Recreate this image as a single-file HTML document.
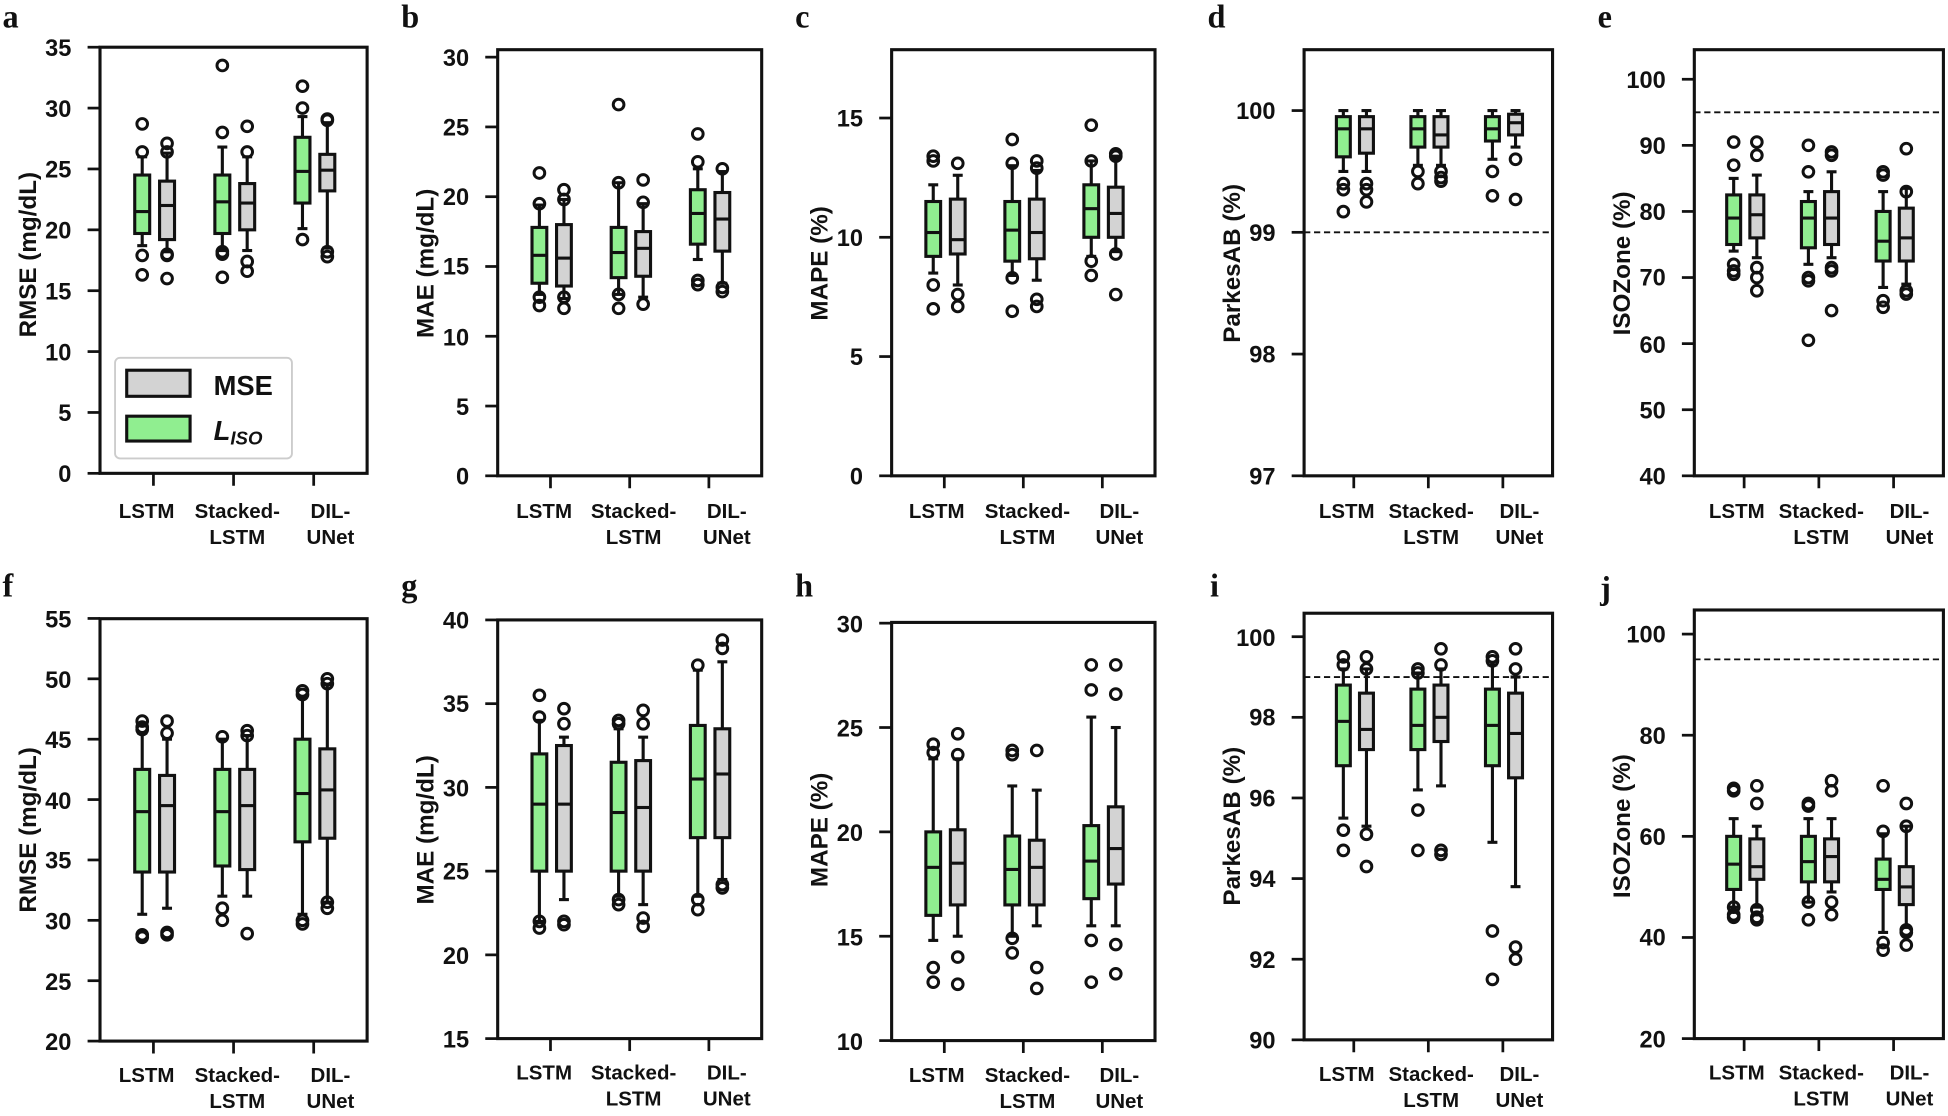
<!DOCTYPE html>
<html><head><meta charset="utf-8"><style>
html,body{margin:0;padding:0;background:#fff;}
svg{display:block;}
text{font-family:"Liberation Sans",Arial,sans-serif;font-weight:bold;fill:#111;}
.t{font-size:19px;}
.xl{font-size:16.5px;text-anchor:middle;}
.yl{font-size:19.5px;text-anchor:middle;}
.let{font-family:"Liberation Serif",serif;font-size:26px;font-weight:bold;}
</style></head><body>
<svg id="s" width="1948" height="1116" viewBox="0 0 1568 898.3" preserveAspectRatio="none" xmlns="http://www.w3.org/2000/svg">
<g id="g"></g>
<text class="let" x="2" y="22">a</text><text class="let" x="323" y="22">b</text><text class="let" x="640" y="22">c</text><text class="let" x="972" y="22">d</text><text class="let" x="1286" y="22">e</text>
<text class="let" x="2" y="480">f</text><text class="let" x="323" y="480">g</text><text class="let" x="640" y="480">h</text><text class="let" x="974" y="480">i</text><text class="let" x="1288" y="482">j</text>
<text class="yl" transform="translate(29,205) rotate(-90)">RMSE (mg/dL)</text>
<text class="yl" transform="translate(349,212) rotate(-90)">MAE (mg/dL)</text>
<text class="yl" transform="translate(666,212) rotate(-90)">MAPE (%)</text>
<text class="yl" transform="translate(998,212) rotate(-90)">ParkesAB (%)</text>
<text class="yl" transform="translate(1312,212) rotate(-90)">ISOZone (%)</text>
<text class="yl" transform="translate(29,668) rotate(-90)">RMSE (mg/dL)</text>
<text class="yl" transform="translate(349,668) rotate(-90)">MAE (mg/dL)</text>
<text class="yl" transform="translate(666,668) rotate(-90)">MAPE (%)</text>
<text class="yl" transform="translate(998,665) rotate(-90)">ParkesAB (%)</text>
<text class="yl" transform="translate(1312,665) rotate(-90)">ISOZone (%)</text>
<g>
<text class="xl" x="118" y="417">LSTM</text><text class="xl" x="191" y="417">Stacked-</text><text class="xl" x="191" y="438">LSTM</text><text class="xl" x="266" y="417">DIL-</text><text class="xl" x="266" y="438">UNet</text>
<text class="xl" x="438" y="417">LSTM</text><text class="xl" x="510" y="417">Stacked-</text><text class="xl" x="510" y="438">LSTM</text><text class="xl" x="585" y="417">DIL-</text><text class="xl" x="585" y="438">UNet</text>
<text class="xl" x="754" y="417">LSTM</text><text class="xl" x="827" y="417">Stacked-</text><text class="xl" x="827" y="438">LSTM</text><text class="xl" x="901" y="417">DIL-</text><text class="xl" x="901" y="438">UNet</text>
<text class="xl" x="1084" y="417">LSTM</text><text class="xl" x="1152" y="417">Stacked-</text><text class="xl" x="1152" y="438">LSTM</text><text class="xl" x="1223" y="417">DIL-</text><text class="xl" x="1223" y="438">UNet</text>
<text class="xl" x="1398" y="417">LSTM</text><text class="xl" x="1466" y="417">Stacked-</text><text class="xl" x="1466" y="438">LSTM</text><text class="xl" x="1537" y="417">DIL-</text><text class="xl" x="1537" y="438">UNet</text>
<text class="xl" x="118" y="871">LSTM</text><text class="xl" x="191" y="871">Stacked-</text><text class="xl" x="191" y="892">LSTM</text><text class="xl" x="266" y="871">DIL-</text><text class="xl" x="266" y="892">UNet</text>
<text class="xl" x="438" y="869">LSTM</text><text class="xl" x="510" y="869">Stacked-</text><text class="xl" x="510" y="890">LSTM</text><text class="xl" x="585" y="869">DIL-</text><text class="xl" x="585" y="890">UNet</text>
<text class="xl" x="754" y="871">LSTM</text><text class="xl" x="827" y="871">Stacked-</text><text class="xl" x="827" y="892">LSTM</text><text class="xl" x="901" y="871">DIL-</text><text class="xl" x="901" y="892">UNet</text>
<text class="xl" x="1084" y="870">LSTM</text><text class="xl" x="1152" y="870">Stacked-</text><text class="xl" x="1152" y="891">LSTM</text><text class="xl" x="1223" y="870">DIL-</text><text class="xl" x="1223" y="891">UNet</text>
<text class="xl" x="1398" y="869">LSTM</text><text class="xl" x="1466" y="869">Stacked-</text><text class="xl" x="1466" y="890">LSTM</text><text class="xl" x="1537" y="869">DIL-</text><text class="xl" x="1537" y="890">UNet</text>
</g>
<g class="t" text-anchor="end">
<text x="57.5" y="45">35</text><text x="57.5" y="94">30</text><text x="57.5" y="143">25</text><text x="57.5" y="192">20</text><text x="57.5" y="241">15</text><text x="57.5" y="290">10</text><text x="57.5" y="339">5</text><text x="57.5" y="388">0</text>
<text x="377.6" y="53">30</text><text x="377.6" y="109">25</text><text x="377.6" y="165">20</text><text x="377.6" y="221">15</text><text x="377.6" y="278">10</text><text x="377.6" y="334">5</text><text x="377.6" y="390">0</text>
<text x="694.7" y="102">15</text><text x="694.7" y="198">10</text><text x="694.7" y="294">5</text><text x="694.7" y="390">0</text>
<text x="1026.7" y="96">100</text><text x="1026.7" y="194">99</text><text x="1026.7" y="292">98</text><text x="1026.7" y="390">97</text>
<text x="1340.8" y="71">100</text><text x="1340.8" y="124">90</text><text x="1340.8" y="177">80</text><text x="1340.8" y="230">70</text><text x="1340.8" y="284">60</text><text x="1340.8" y="337">50</text><text x="1340.8" y="390">40</text>
<text x="57.5" y="505">55</text><text x="57.5" y="554">50</text><text x="57.5" y="602">45</text><text x="57.5" y="651">40</text><text x="57.5" y="699">35</text><text x="57.5" y="748">30</text><text x="57.5" y="797">25</text><text x="57.5" y="845">20</text>
<text x="377.6" y="506">40</text><text x="377.6" y="573">35</text><text x="377.6" y="641">30</text><text x="377.6" y="708">25</text><text x="377.6" y="776">20</text><text x="377.6" y="843">15</text>
<text x="694.7" y="509">30</text><text x="694.7" y="593">25</text><text x="694.7" y="677">20</text><text x="694.7" y="761">15</text><text x="694.7" y="845">10</text>
<text x="1026.7" y="520">100</text><text x="1026.7" y="584">98</text><text x="1026.7" y="649">96</text><text x="1026.7" y="714">94</text><text x="1026.7" y="779">92</text><text x="1026.7" y="844">90</text>
<text x="1340.8" y="517">100</text><text x="1340.8" y="599">80</text><text x="1340.8" y="680">60</text><text x="1340.8" y="761">40</text><text x="1340.8" y="843">20</text>
</g>
<rect x="92.6" y="288" width="142.4" height="81" rx="4" fill="#fff" stroke="#ccc" stroke-width="1.5"/>
<rect x="102" y="298" width="51" height="21" fill="#d3d3d3" stroke="#111" stroke-width="2.5"/>
<rect x="102" y="335" width="51" height="20" fill="#90ee90" stroke="#111" stroke-width="2.5"/>
<text x="172" y="318" style="font-size:22px">MSE</text>
<text x="172" y="354" style="font-size:22px;font-style:italic">L<tspan style="font-size:15px" dy="4">ISO</tspan></text>
</svg>
<script>
var P=[
{l:80.5,w:215,t:38,b:381,ymin:0,ppu:9.8,ticks:[0,5,10,15,20,25,30,35],d:[
[18.7,19.7,21.5,24.5,26,[26.4,28.7,17.9,16.3]],[18.2,19.2,22,24,26.3,[27.1,26.4,18,17.9,16]],
[18.3,19.7,22.3,24.5,26.8,[33.5,28,18.2,18,16.1]],[18.3,20,22.2,23.8,26,[28.5,26.4,17.4,16.6]],
[20.1,22.2,24.8,27.6,29.3,[31.8,30,19.2]],[18.5,23.2,24.9,26.2,28.8,[29.1,29,18.2,17.8]]]},
{l:400.6,w:212.5,t:40,b:383,ymin:0,ppu:(383-46)/30,ticks:[0,5,10,15,20,25,30],d:[
[13,13.8,15.8,17.8,19.4,[21.7,19.5,12.8,12.2]],[12.7,13.6,15.6,18,19.8,[20.5,19.8,12.8,12]],
[13,14.2,16,17.8,21,[26.6,21,13,12]],[12.8,14.3,16.3,17.5,19.5,[21.2,19.6,12.3]],
[15.5,16.6,18.8,20.5,22,[24.5,22.5,14,13.7]],[13.8,16.1,18.4,20.3,21.8,[22,13.5,13.2]]]},
{l:717.7,w:212,t:40,b:383,ymin:0,ppu:19.2,ticks:[0,5,10,15],d:[
[8.5,9.2,10.2,11.5,12.2,[13.4,13.2,8,7]],[8,9.3,9.9,11.6,12.6,[13.1,7.6,7.1]],
[8.4,9,10.3,11.5,13,[14.1,13.1,8.3,6.9]],[8.2,9.1,10.2,11.6,12.8,[13.2,12.9,7.4,7.1]],
[9.2,10,11.2,12.2,13.2,[14.7,13.2,9,8.4]],[9.4,10,11,12.1,13.4,[13.5,13.4,9.3,7.6]]]},
{l:1049.7,w:200,t:40,b:383,ymin:97,ppu:98,ticks:[97,98,99,100],dash:99,d:[
[99.5,99.62,99.85,99.95,100,[99.4,99.35,99.17]],[99.5,99.65,99.85,99.95,100,[99.4,99.35,99.25]],
[99.55,99.7,99.85,99.95,100,[99.5,99.4]],[99.55,99.7,99.8,99.95,100,[99.5,99.45,99.42]],
[99.6,99.75,99.85,99.95,100,[99.5,99.3]],[99.7,99.8,99.9,99.97,100,[99.6,99.27]]]},
{l:1363.8,w:200.5,t:40,b:383,ymin:40,ppu:5.32,ticks:[40,50,60,70,80,90,100],dash:95,d:[
[74,75,79,82.5,85,[90.5,87,72,71,70.5]],[73,76,79.5,82.5,85.5,[90.5,88.5,71.5,70,68]],
[72,74.5,79,81.5,83,[90,86,70,69.5,60.5]],[73,75,79,83,86,[89,88.5,71.5,71,65]],
[68.5,72.5,75.5,80,83,[86,85.5,66.5,65.5]],[69,72.5,76,80.5,83.5,[89.5,83,68,67.5]]]},
{l:80.5,w:215,t:498,b:838,ymin:20,ppu:9.72,ticks:[20,25,30,35,40,45,50,55],d:[
[30.5,34,39,42.5,45.5,[46.5,46,45.8,28.8,28.6]],[31,34,39.5,42,45,[46.5,45.5,29,28.8]],
[32,34.5,39,42.5,45,[45.2,31,30]],[32,34.2,39.5,42.5,45.3,[45.7,45.3,28.9]],
[30.5,36.5,40.5,45,48.5,[49,48.7,30,29.7]],[31.5,36.8,40.8,44.2,49.5,[50,49.6,31.5,31]]]},
{l:400.6,w:212.5,t:499,b:836,ymin:15,ppu:13.48,ticks:[15,20,25,30,35,40],d:[
[22,25,29,32,34,[35.5,34.2,22,21.6]],[23.3,25,29,32.5,33,[34.7,33.8,22,21.8]],
[23.5,25,28.5,31.5,33.5,[34,33.8,23.3,23]],[23,25,28.8,31.6,33,[34.6,33.8,22.2,21.7]],
[23.5,27,30.5,33.7,37,[37.3,23.3,22.7]],[24.5,27,30.8,33.5,37.5,[38.8,38.3,24.2,24]]]},
{l:717.7,w:212,t:501,b:837.6,ymin:10,ppu:16.8,ticks:[10,15,20,25,30],d:[
[14.8,16,18.3,20,23.5,[24.2,23.8,13.5,12.8]],[15,16.5,18.5,20.1,23.5,[24.7,23.7,14,12.7]],
[15,16.5,18.2,19.8,22.2,[23.9,23.7,14.9,14.2]],[15.5,16.5,18.3,19.6,22,[23.9,13.5,12.5]],
[15.5,16.8,18.6,20.3,25.5,[28,26.8,14.8,12.8]],[15.5,17.5,19.2,21.2,25,[28,26.6,14.6,13.2]]]},
{l:1049.7,w:200,t:493.6,b:837,ymin:90,ppu:32.45,ticks:[90,92,94,96,98,100],dash:99,d:[
[95.5,96.8,97.9,98.8,99.2,[99.5,99.3,95.2,94.7]],[95.3,97.2,97.7,98.6,99.2,[99.5,99.2,95.1,94.3]],
[96.2,97.2,97.8,98.7,99.1,[99.2,99.1,95.7,94.7]],[96.3,97.4,98,98.8,99.2,[99.7,99.3,94.7,94.6]],
[94.9,96.8,97.8,98.7,99.3,[99.5,99.4,92.7,91.5]],[93.8,96.5,97.6,98.6,99,[99.7,99.2,92.3,92]]]},
{l:1363.8,w:200.5,t:491,b:836,ymin:20,ppu:4.07,ticks:[20,40,60,80,100],dash:95,d:[
[46,49.5,54.5,60,63.5,[69.5,69,46,44.5,44]],[46,51.5,54,59.5,62,[70,66.5,45.5,44,43.5]],
[47,51,55,60,63.5,[66.5,66,47,43.5]],[49,51,56,59.5,63.5,[71,69,47,44.5]],
[41,49.5,51.5,55.5,60.5,[70,61,39,37.5]],[42,46.5,50,54,62,[66.5,62,41.5,41,38.5]]]}
];
var s='',K='#111';
P.forEach(function(p){
 var Y=function(v){return p.b-(v-p.ymin)*p.ppu;};
 s+='<rect x="'+p.l+'" y="'+p.t+'" width="'+p.w+'" height="'+(p.b-p.t)+'" fill="none" stroke="'+K+'" stroke-width="2.5"/>';
 p.ticks.forEach(function(t){var y=Y(t);s+='<line x1="'+(p.l-10)+'" x2="'+p.l+'" y1="'+y+'" y2="'+y+'" stroke="'+K+'" stroke-width="2.2"/>';});
 if(p.dash)s+='<line x1="'+p.l+'" x2="'+(p.l+p.w)+'" y1="'+Y(p.dash)+'" y2="'+Y(p.dash)+'" stroke="'+K+'" stroke-width="1.5" stroke-dasharray="5,3"/>';
 [0.2,0.5,0.8].forEach(function(f,gi){
  var tx=p.l+f*p.w;
  s+='<line x1="'+tx+'" x2="'+tx+'" y1="'+p.b+'" y2="'+(p.b+10)+'" stroke="'+K+'" stroke-width="2.2"/>';
  [[-0.042*p.w,'#90ee90',p.d[gi*2]],[0.051*p.w,'#d3d3d3',p.d[gi*2+1]]].forEach(function(q){
   var cx=tx+q[0],d=q[2],bw=0.056*p.w;
   s+='<line x1="'+cx+'" x2="'+cx+'" y1="'+Y(d[0])+'" y2="'+Y(d[4])+'" stroke="'+K+'" stroke-width="2.5"/>';
   s+='<line x1="'+(cx-4)+'" x2="'+(cx+4)+'" y1="'+Y(d[0])+'" y2="'+Y(d[0])+'" stroke="'+K+'" stroke-width="2.5"/>';
   s+='<line x1="'+(cx-4)+'" x2="'+(cx+4)+'" y1="'+Y(d[4])+'" y2="'+Y(d[4])+'" stroke="'+K+'" stroke-width="2.5"/>';
   s+='<rect x="'+(cx-bw/2)+'" y="'+Y(d[3])+'" width="'+bw+'" height="'+(Y(d[1])-Y(d[3]))+'" fill="'+q[1]+'" stroke="'+K+'" stroke-width="2.5"/>';
   s+='<line x1="'+(cx-bw/2)+'" x2="'+(cx+bw/2)+'" y1="'+Y(d[2])+'" y2="'+Y(d[2])+'" stroke="'+K+'" stroke-width="2.5"/>';
   d[5].forEach(function(o){s+='<circle cx="'+cx+'" cy="'+Y(o)+'" r="4.3" fill="none" stroke="'+K+'" stroke-width="2.4"/>';});
  });
 });
});
document.getElementById('g').innerHTML=s;
</script>
</body></html>
